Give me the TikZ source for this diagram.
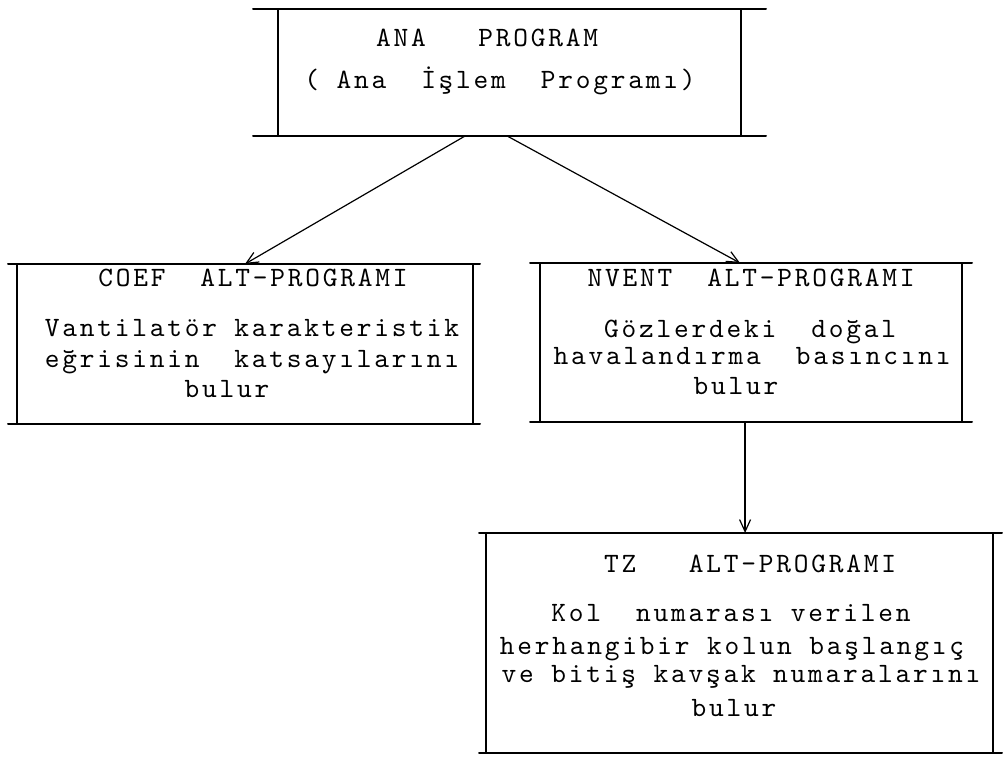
\documentclass[tikz,border=0pt]{standalone}
\usepackage{fontspec}
\newfontfamily\tw{lmmono10-regular.otf}[LetterSpace=10]
\usetikzlibrary{arrows.meta,calc}
\newcommand\boxlines[3]{%
  \draw[hline] ($(#1.north west)+(-#2,0)$) -- ($(#1.north east)+(#3,0)$);
  \draw[hline] ($(#1.south west)+(-#2,0)$) -- ($(#1.south east)+(#3,0)$);
  \draw[vline] (#1.north west) -- (#1.south west);
  \draw[vline] (#1.north east) -- (#1.south east);
}
\begin{document}
\begin{tikzpicture}[x=0.5pt,y=-0.5pt,
  boxnode/.style={inner sep=0pt,outer sep=0pt,draw=none},
  hline/.style={line width=1pt,line cap=round},
  vline/.style={line width=0.55pt},
  arr/.style={line width=0.6pt,-{Straight Barb[length=6pt,width=5.5pt]}},
  txt/.style={inner sep=0pt,anchor=base,font=\tw\fontsize{14}{15}\selectfont}]
\useasboundingbox (0,0) rectangle (1003,758);

% boxes
\node[boxnode,minimum width=231.5pt,minimum height=63.5pt] (ana) at (509.5,72.5) {};
\node[boxnode,minimum width=228pt,minimum height=80pt] (coef) at (245,344) {};
\node[boxnode,minimum width=211pt,minimum height=79.5pt] (nvent) at (751,342.5) {};
\node[boxnode,minimum width=253.5pt,minimum height=110pt] (tz) at (739.5,643) {};

\boxlines{ana}{25}{25}
\boxlines{coef}{9}{7}
\boxlines{nvent}{10}{10}
\boxlines{tz}{7}{9}

% texts
\node[txt] (ana1) at (487,47) {ANA~~~PROGRAM};
\node[txt] (ana2) at (500,89) {(~Ana~~İşlem~~Programı)};

\node[txt] (coef1) at (253,287) {COEF~~ALT-PROGRAMI};
\node[txt] (coef2) at (252,337) {Vantilatör karakteristik};
\node[txt] (coef3) at (252,368) {eğrisinin~~katsayılarını};
\node[txt] (coef4) at (227,398) {bulur};

\node[txt] (nv1) at (751,287) {NVENT~~ALT-PROGRAMI};
\node[txt] (nv2) at (750,338) {Gözlerdeki~~doğal};
\node[txt] (nv3) at (752,365) {havalandırma~~basıncını};
\node[txt] (nv4) at (736,395) {bulur};

\node[txt] (tz1) at (750,573) {TZ~~~ALT-PROGRAMI};
\node[txt] (tz2) at (731,622) {Kol~~numarası verilen};
\node[txt] (tz3) at (732,655) {herhangibir kolun başlangıç};
\node[txt] (tz4) at (741,683) {ve bitiş kavşak numaralarını};
\node[txt] (tz5) at (734,717) {bulur};

% connectors
\coordinate (a1) at ($(ana.south west)!0.404!(ana.south east)$);
\coordinate (a2) at ($(ana.south west)!0.495!(ana.south east)$);
\coordinate (n1) at ($(nvent.north west)!0.474!(nvent.north east)$);
\coordinate (n2) at ($(nvent.south west)!0.486!(nvent.south east)$);
\draw[arr] (a1) -- (coef.north);
\draw[arr] (a2) -- (n1);
\draw[arr] (n2) -- (n2 |- tz.north);
\end{tikzpicture}
\end{document}
